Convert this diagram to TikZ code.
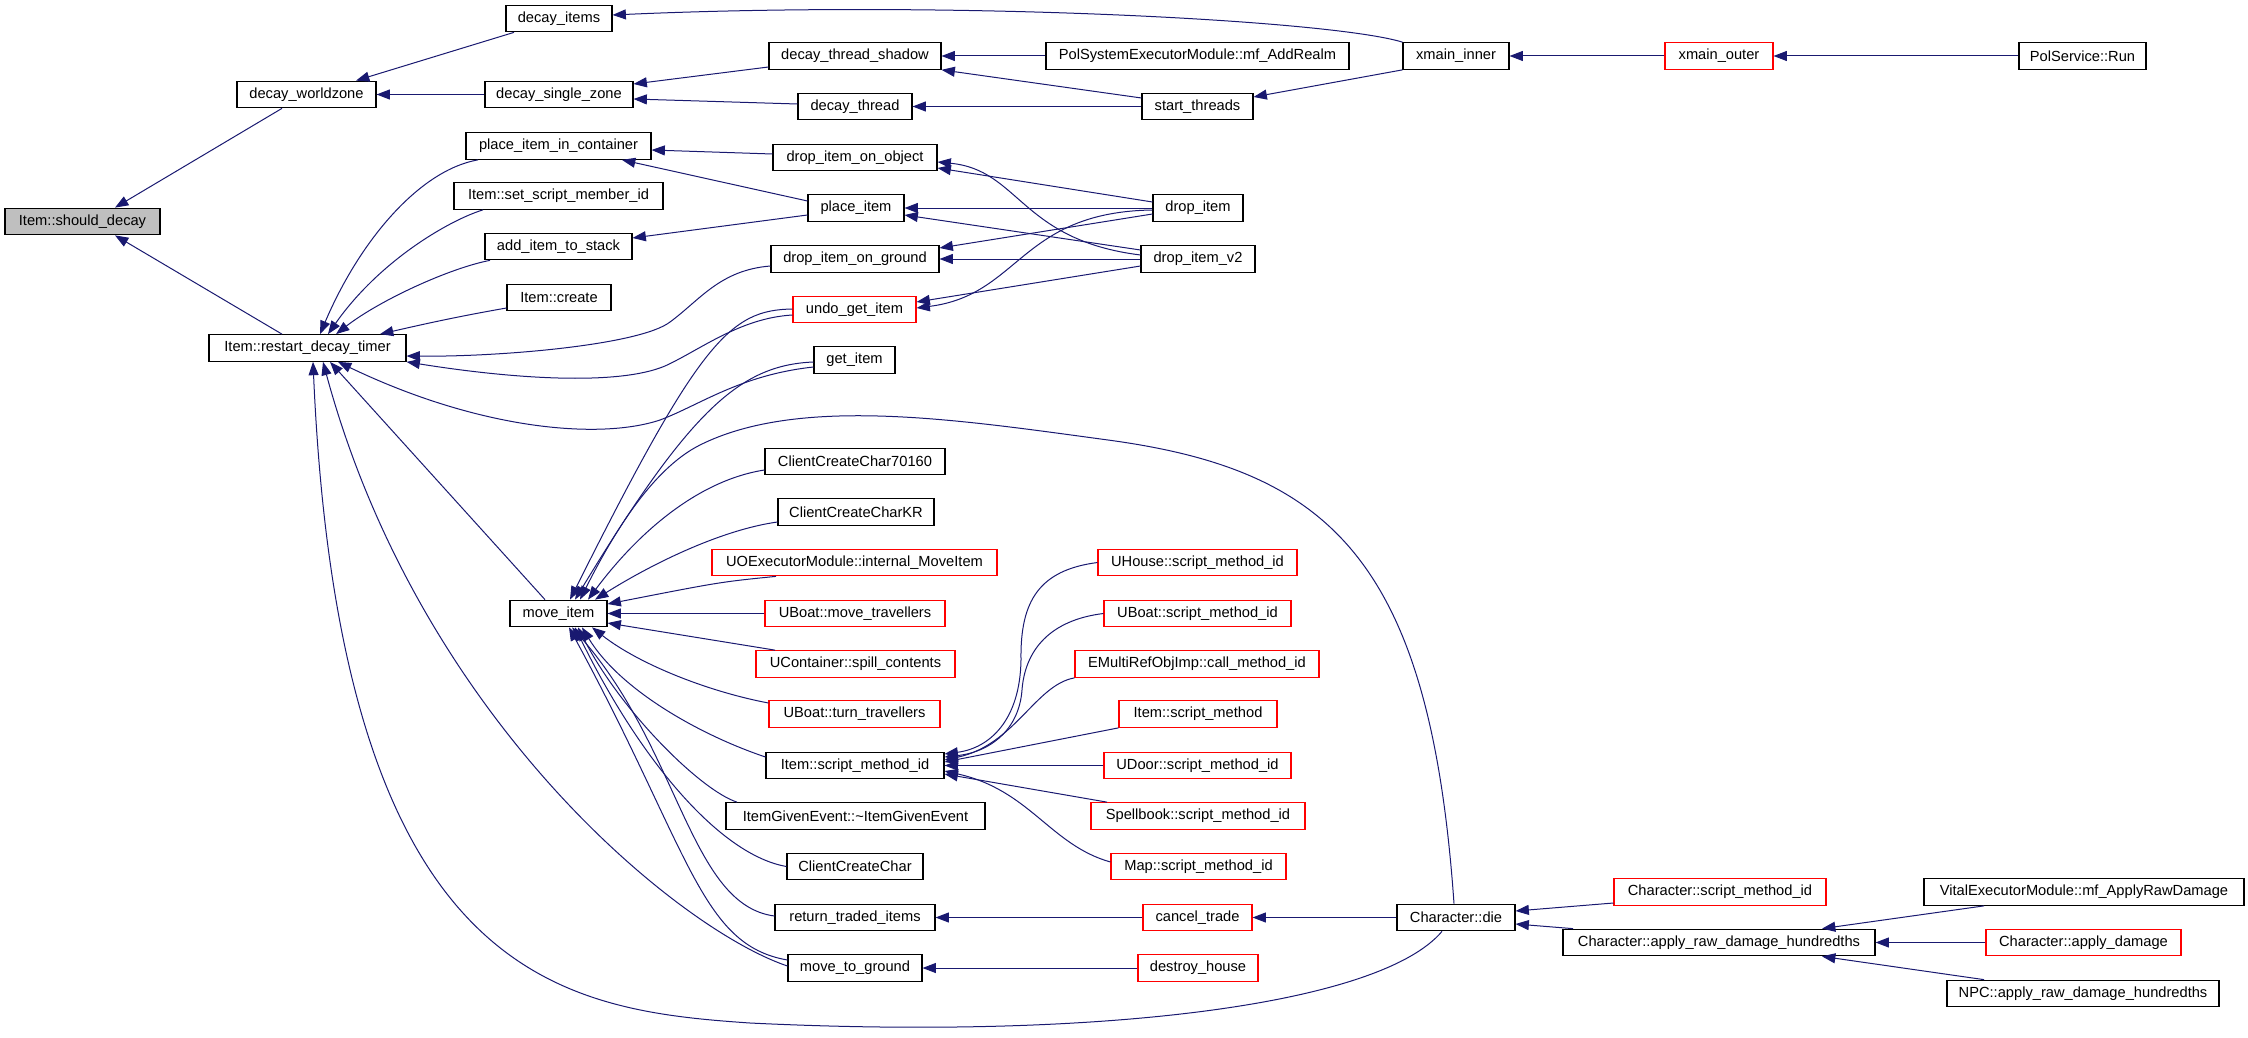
\documentclass[tikz,border=0pt]{standalone}
\usepackage{fontspec}
\setmainfont{Liberation Sans}
\usetikzlibrary{arrows.meta}
\definecolor{edgeblue}{RGB}{25,25,112}
\definecolor{rootgray}{RGB}{191,191,191}
\tikzset{
  fn/.style={draw=black, line width=0.8pt, rectangle, inner sep=0pt, minimum height=20pt, font=\fontsize{11}{13}\selectfont},
  bw/.style={minimum width=#1*0.75pt},
  ext/.style={fn, draw=red},
  call/.style={draw=edgeblue, line width=0.75pt, -{Triangle[length=10pt,width=7.5pt]}},
}
\begin{document}
\begin{tikzpicture}[x=0.75pt, y=-0.75pt]
\useasboundingbox (0,0) rectangle (2248,1038);

% root and first callers
\node[fn, bw=155, fill=rootgray] (should) at (82.5,221.5) {Item::should\_decay};
\node[fn, bw=139] (worldzone) at (306.5,94.5) {decay\_worldzone};
\node[fn, bw=197] (restart) at (307.5,348) {Item::restart\_decay\_timer};

% third column
\node[fn, bw=106] (items) at (559,18.5) {decay\_items};
\node[fn, bw=148] (singlezone) at (559,94.5) {decay\_single\_zone};
\node[fn, bw=185] (pinc) at (558.5,146) {place\_item\_in\_container};
\node[fn, bw=209] (setmem) at (558.5,196) {Item::set\_script\_member\_id};
\node[fn, bw=147] (addstack) at (558.5,246.5) {add\_item\_to\_stack};
\node[fn, bw=104] (create) at (559,297.5) {Item::create};
\node[fn, bw=97] (move) at (558.5,613.5) {move\_item};

% fourth column
\node[fn, bw=172] (shadow) at (855,56) {decay\_thread\_shadow};
\node[fn, bw=114] (dthread) at (855,106.5) {decay\_thread};
\node[fn, bw=164] (dioo) at (855,157.5) {drop\_item\_on\_object};
\node[fn, bw=96] (place) at (856,208) {place\_item};
\node[fn, bw=168] (diog) at (855,259) {drop\_item\_on\_ground};
\node[ext, bw=123] (undo) at (854.5,309.5) {undo\_get\_item};
\node[fn, bw=81] (getitem) at (854.5,360) {get\_item};
\node[fn, bw=180] (cc70160) at (855,461.5) {ClientCreateChar70160};
\node[fn, bw=156] (cckr) at (856,512) {ClientCreateCharKR};
\node[ext, bw=285] (uoexec) at (854.5,562.5) {UOExecutorModule::internal\_MoveItem};
\node[ext, bw=180] (ubmove) at (855,613.5) {UBoat::move\_travellers};
\node[ext, bw=199] (spill) at (855.5,664) {UContainer::spill\_contents};
\node[ext, bw=171] (ubturn) at (854.5,714) {UBoat::turn\_travellers};
\node[fn, bw=178] (ismid) at (855,765.5) {Item::script\_method\_id};
\node[fn, bw=259] (igev) at (855.5,816) {ItemGivenEvent::\textasciitilde ItemGivenEvent};
\node[fn, bw=136] (ccc) at (855,866.5) {ClientCreateChar};
\node[fn, bw=160] (rti) at (855,917.5) {return\_traded\_items};
\node[fn, bw=134] (mtg) at (855,968) {move\_to\_ground};

% fifth column
\node[fn, bw=303] (addrealm) at (1197.5,56) {PolSystemExecutorModule::mf\_AddRealm};
\node[fn, bw=111] (start) at (1197.5,106.5) {start\_threads};
\node[fn, bw=90] (dropitem) at (1198,208) {drop\_item};
\node[fn, bw=114] (dropv2) at (1198,259) {drop\_item\_v2};
\node[ext, bw=199] (uhouse) at (1197.5,562.5) {UHouse::script\_method\_id};
\node[ext, bw=187] (ubsmid) at (1197.5,613.5) {UBoat::script\_method\_id};
\node[ext, bw=244] (emulti) at (1197,664) {EMultiRefObjImp::call\_method\_id};
\node[ext, bw=158] (ismethod) at (1198,714) {Item::script\_method};
\node[ext, bw=187] (udoor) at (1197.5,765.5) {UDoor::script\_method\_id};
\node[ext, bw=214] (spellbook) at (1198,816) {Spellbook::script\_method\_id};
\node[ext, bw=175] (map) at (1198.5,866.5) {Map::script\_method\_id};
\node[ext, bw=109] (cancel) at (1197.5,917.5) {cancel\_trade};
\node[ext, bw=120] (destroy) at (1198,968) {destroy\_house};

% right side
\node[fn, bw=106] (xinner) at (1456,56) {xmain\_inner};
\node[fn, bw=118] (die) at (1456,917.5) {Character::die};
\node[ext, bw=108] (xouter) at (1719,56) {xmain\_outer};
\node[ext, bw=212] (csmid) at (1720,892) {Character::script\_method\_id};
\node[fn, bw=312] (ardh) at (1719,942.5) {Character::apply\_raw\_damage\_hundredths};
\node[fn, bw=127] (run) at (2082.5,56) {PolService::Run};
\node[fn, bw=320] (vital) at (2084,892) {VitalExecutorModule::mf\_ApplyRawDamage};
\node[ext, bw=195] (applydmg) at (2083.5,942.5) {Character::apply\_damage};
\node[fn, bw=272] (npc) at (2083,993.5) {NPC::apply\_raw\_damage\_hundredths};

% into Item::should_decay
\draw[call] (worldzone.south -| 282,0) -- (should.north -| 115,0);
\draw[call] (restart.north -| 282,0) -- (should.south -| 115,0);

% decay chain
\draw[call] (items.south -| 514,0) -- (worldzone.north -| 356,0);
\draw[call] (singlezone) -- (worldzone);
\draw[call] (xinner.north west) .. controls (1330,20) and (950,0) .. (items.east |- 0,15);
\draw[call] (shadow.west |- 0,67) -- (singlezone.east |- 0,84);
\draw[call] (dthread.west |- 0,104) -- (singlezone.east |- 0,99);
\draw[call] (addrealm) -- (shadow);
\draw[call] (start.west |- 0,98) -- (shadow.south east);
\draw[call] (start) -- (dthread);
\draw[call] (xinner.south west) -- (start.east |- 0,97);
\draw[call] (xouter) -- (xinner);
\draw[call] (run) -- (xouter);

% into Item::restart_decay_timer
\draw[call] (pinc.south -| 478,0) .. controls (420,170) and (360,240) .. (restart.north -| 320,0);
\draw[call] (setmem.south -| 483,0) .. controls (450,220) and (380,260) .. (restart.north -| 328,0);
\draw[call] (addstack.south -| 490,0) .. controls (450,268) and (380,300) .. (restart.north -| 336,0);
\draw[call] (create.west |- 0,308) .. controls (455,317) and (420,325) .. (restart.north -| 380,0);
\draw[call] (diog.west |- 0,266) .. controls (720,270) and (700,300) .. (670,322) .. controls (640,345) and (500,357) .. (restart.east |- 0,356);
\draw[call] (undo.west |- 0,315) .. controls (740,318) and (700,350) .. (665,366) .. controls (620,385) and (520,380) .. (restart.south east);
\draw[call] (getitem.west |- 0,367) .. controls (740,375) and (700,405) .. (660,420) .. controls (600,440) and (480,430) .. (restart.south -| 338,0);
\draw[call] (move.north -| 545,0) -- (restart.south -| 330,0);
\draw[call] (mtg.west |- 0,966) .. controls (680,930) and (420,720) .. (restart.south -| 323,0);
\draw[call] (die.south -| 1442,0) .. controls (1380,1005) and (1100,1040) .. (750,1023) .. controls (560,1010) and (340,980) .. (restart.south -| 313,0);

% into move_item
\draw[call] (undo.west |- 0,309) .. controls (730,310) and (700,340) .. (move.north -| 570,0);
\draw[call] (getitem.west |- 0,362) .. controls (740,365) and (690,410) .. (move.north -| 575,0);
\draw[call] (die.north -| 1454,0) .. controls (1430,560) and (1330,470) .. (1108,440) .. controls (960,420) and (800,395) .. (700,445) .. controls (650,470) and (610,540) .. (move.north -| 580,0);
\draw[call] (cc70160.west |- 0,470) .. controls (700,480) and (640,530) .. (move.north -| 588,0);
\draw[call] (cckr.west |- 0,522) .. controls (720,530) and (650,565) .. (move.north -| 595,0);
\draw[call] (uoexec.south -| 776,0) .. controls (720,582) .. (move.east |- 0,604);
\draw[call] (ubmove) -- (move);
\draw[call] (spill.north -| 775,0) -- (move.east |- 0,623);
\draw[call] (ubturn.west |- 0,703) .. controls (710,692) and (640,665) .. (move.south -| 592,0);
\draw[call] (ismid.west |- 0,757) .. controls (700,735) and (620,690) .. (move.south -| 582,0);
\draw[call] (igev.north -| 737,0) .. controls (700,790) and (620,710) .. (move.south -| 578,0);
\draw[call] (ccc.west) .. controls (720,855) and (640,760) .. (move.south -| 575,0);
\draw[call] (rti.west |- 0,916) .. controls (690,905) and (680,750) .. (move.south -| 572,0);
\draw[call] (mtg.west |- 0,960) .. controls (700,945) and (690,850) .. (move.south -| 569,0);

% drop / place crossings
\draw[call] (dioo.west |- 0,154) -- (pinc.east |- 0,150);
\draw[call] (place.west |- 0,201) -- (pinc.south -| 622,0);
\draw[call] (place.west |- 0,215) -- (addstack.east |- 0,238);
\draw[call] (dropitem.west |- 0,202) -- (dioo.east |- 0,168);
\draw[call] (dropv2.west |- 0,255) .. controls (1020,240) and (1020,170) .. (dioo.east |- 0,162);
\draw[call] (dropitem) -- (place);
\draw[call] (dropv2.west |- 0,250) -- (place.east |- 0,215);
\draw[call] (dropitem.west |- 0,214) -- (diog.east |- 0,248);
\draw[call] (dropv2) -- (diog);
\draw[call] (dropv2.west |- 0,266) -- (undo.east |- 0,302);
\draw[call] (dropitem.west |- 0,210) .. controls (1020,212) and (1020,295) .. (undo.east |- 0,308);

% into Item::script_method_id
\draw[call] (uhouse.west) .. controls (1040,570) and (1020,600) .. (1021,660) .. controls (1020,720) and (990,748) .. (ismid.east |- 0,754);
\draw[call] (ubsmid.west) .. controls (1050,620) and (1025,650) .. (1022,690) .. controls (1019,730) and (990,752) .. (ismid.east |- 0,757);
\draw[call] (emulti.south west) .. controls (1035,685) and (1015,745) .. (ismid.east |- 0,760);
\draw[call] (ismethod.south west) -- (ismid.east |- 0,762);
\draw[call] (udoor) -- (ismid);
\draw[call] (spellbook.north -| 1107,0) -- (ismid.east |- 0,774);
\draw[call] (map.west |- 0,862) .. controls (1050,845) and (1030,790) .. (ismid.east |- 0,771);

% Character::die and its callers
\draw[call] (cancel) -- (rti);
\draw[call] (die) -- (cancel);
\draw[call] (destroy) -- (mtg);
\draw[call] (csmid.west |- 0,903) -- (die.east |- 0,911);
\draw[call] (ardh.north -| 1573,0) -- (die.east |- 0,924);
\draw[call] (vital.south -| 1984,0) -- (ardh.north -| 1822,0);
\draw[call] (applydmg) -- (ardh);
\draw[call] (npc.north -| 1984,0) -- (ardh.south -| 1822,0);

\end{tikzpicture}
\end{document}
